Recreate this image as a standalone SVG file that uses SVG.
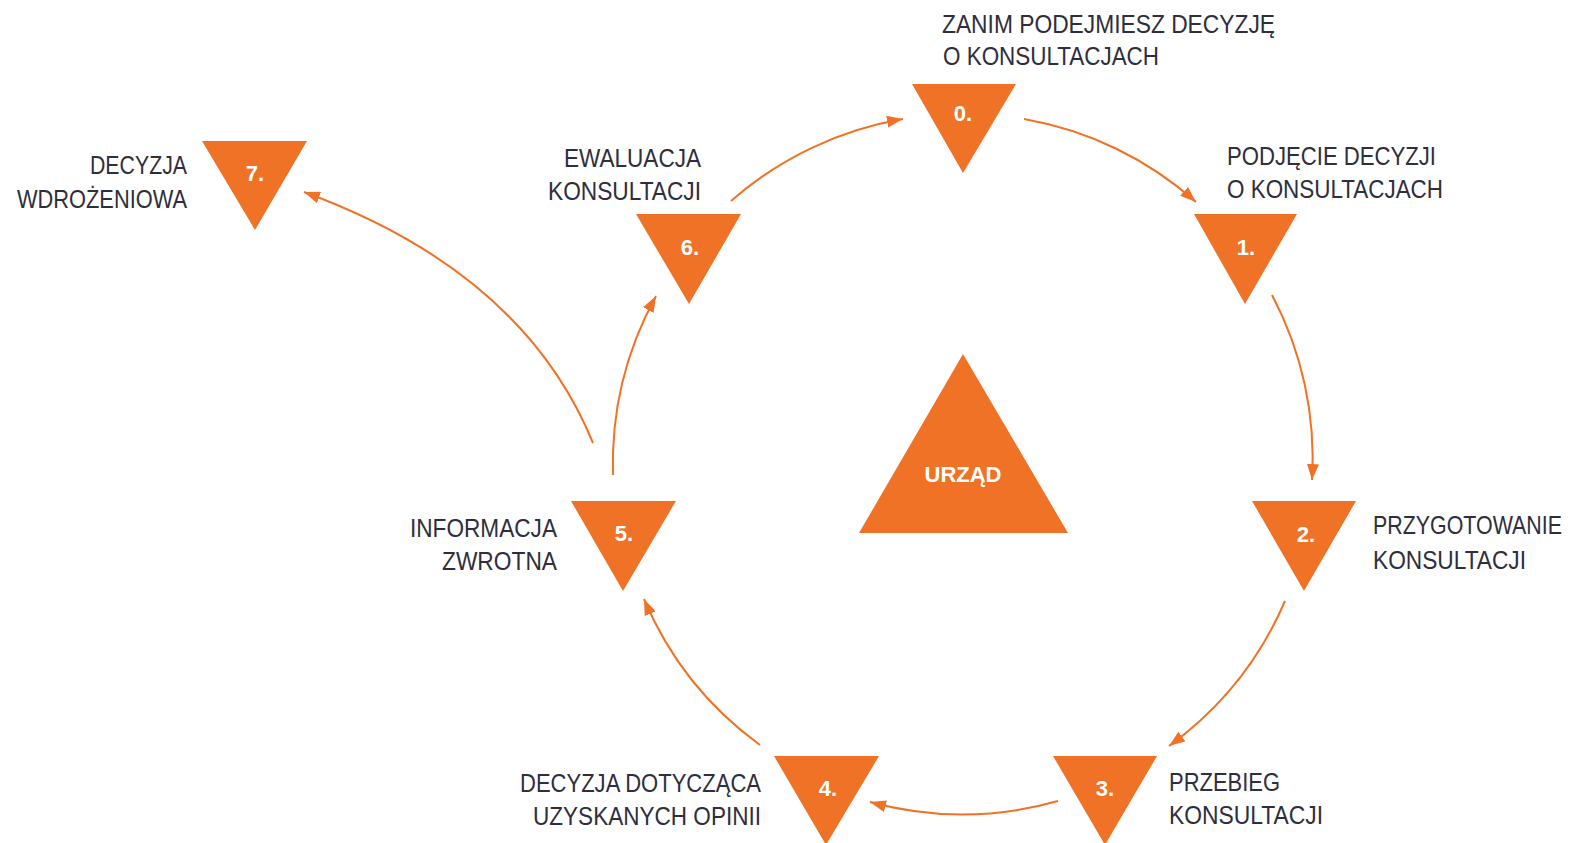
<svg xmlns="http://www.w3.org/2000/svg" width="1575" height="843" viewBox="0 0 1575 843">
<defs>
<marker id="ah" markerUnits="userSpaceOnUse" markerWidth="18" markerHeight="12" refX="16" refY="6" orient="auto">
<path d="M0,0 L16,6 L0,12 z" fill="#F07226"/>
</marker>
<style>
.tri{fill:#F07226}
.num{font-family:"Liberation Sans",Arial,sans-serif;font-weight:bold;font-size:22px;fill:#ffffff;text-anchor:middle}
.lbl{font-family:"Liberation Sans",Arial,sans-serif;font-size:25px;fill:#2e2e3c}
.end{text-anchor:end}
.arr{fill:none;stroke:#F07226;stroke-width:2;marker-end:url(#ah)}
</style>
</defs>
<rect width="1575" height="843" fill="#ffffff"/>
<g id="connectors">
<path class="arr" d="M1024,119 A349,349 0 0 1 1196,202"/>
<path class="arr" d="M1272,295 A349,349 0 0 1 1312,480"/>
<path class="arr" d="M1285,601 A349,349 0 0 1 1169,746"/>
<path class="arr" d="M1058,801 A351,351 0 0 1 870,802"/>
<path class="arr" d="M760,745 A348,348 0 0 1 644,599"/>
<path class="arr" d="M613,475 A350,350 0 0 1 656,296"/>
<path class="arr" d="M731,201 A349,349 0 0 1 903,119"/>
<path class="arr" d="M593,443 Q523,272 304,192"/>
</g>
<g id="center">
<polygon class="tri" points="963,354 1068,533 859,533"/>
<text x="963" y="482" class="num" font-size="23">URZĄD</text>
</g>
<g id="node0">
<polygon class="tri" points="912,84 1016,84 963,173"/>
<text x="963" y="121" class="num">0.</text>
<text x="942" y="33" class="lbl" textLength="333" lengthAdjust="spacingAndGlyphs">ZANIM PODEJMIESZ DECYZJĘ</text>
<text x="943" y="65" class="lbl" textLength="216" lengthAdjust="spacingAndGlyphs">O KONSULTACJACH</text>
</g>
<g id="node1">
<polygon class="tri" points="1194,214 1297,214 1245,304"/>
<text x="1246" y="255" class="num">1.</text>
<text x="1227" y="165" class="lbl" textLength="209" lengthAdjust="spacingAndGlyphs">PODJĘCIE DECYZJI</text>
<text x="1227" y="198" class="lbl" textLength="216" lengthAdjust="spacingAndGlyphs">O KONSULTACJACH</text>
</g>
<g id="node2">
<polygon class="tri" points="1252,501 1356,501 1304,591"/>
<text x="1306" y="542" class="num">2.</text>
<text x="1373" y="534" class="lbl" textLength="189" lengthAdjust="spacingAndGlyphs">PRZYGOTOWANIE</text>
<text x="1373" y="569" class="lbl" textLength="153" lengthAdjust="spacingAndGlyphs">KONSULTACJI</text>
</g>
<g id="node3">
<polygon class="tri" points="1053,756 1157,756 1105,845"/>
<text x="1105" y="796" class="num">3.</text>
<text x="1169" y="791" class="lbl" textLength="111" lengthAdjust="spacingAndGlyphs">PRZEBIEG</text>
<text x="1169" y="824" class="lbl" textLength="154" lengthAdjust="spacingAndGlyphs">KONSULTACJI</text>
</g>
<g id="node4">
<polygon class="tri" points="774,756 879,756 826,845"/>
<text x="828" y="796" class="num">4.</text>
<text x="761" y="792" class="lbl end" textLength="241" lengthAdjust="spacingAndGlyphs">DECYZJA DOTYCZĄCA</text>
<text x="761" y="825" class="lbl end" textLength="228" lengthAdjust="spacingAndGlyphs">UZYSKANYCH OPINII</text>
</g>
<g id="node5">
<polygon class="tri" points="571,501 676,501 623,591"/>
<text x="624" y="541" class="num">5.</text>
<text x="557" y="537" class="lbl end" textLength="147" lengthAdjust="spacingAndGlyphs">INFORMACJA</text>
<text x="557" y="570" class="lbl end" textLength="115" lengthAdjust="spacingAndGlyphs">ZWROTNA</text>
</g>
<g id="node6">
<polygon class="tri" points="636,214 741,214 689,304"/>
<text x="690" y="255" class="num">6.</text>
<text x="701" y="167" class="lbl end" textLength="137" lengthAdjust="spacingAndGlyphs">EWALUACJA</text>
<text x="701" y="200" class="lbl end" textLength="153" lengthAdjust="spacingAndGlyphs">KONSULTACJI</text>
</g>
<g id="node7">
<polygon class="tri" points="202,141 307,141 255,230"/>
<text x="255" y="181" class="num">7.</text>
<text x="187" y="174" class="lbl end" textLength="97" lengthAdjust="spacingAndGlyphs">DECYZJA</text>
<text x="187" y="208" class="lbl end" textLength="170" lengthAdjust="spacingAndGlyphs">WDROŻENIOWA</text>
</g>
</svg>
